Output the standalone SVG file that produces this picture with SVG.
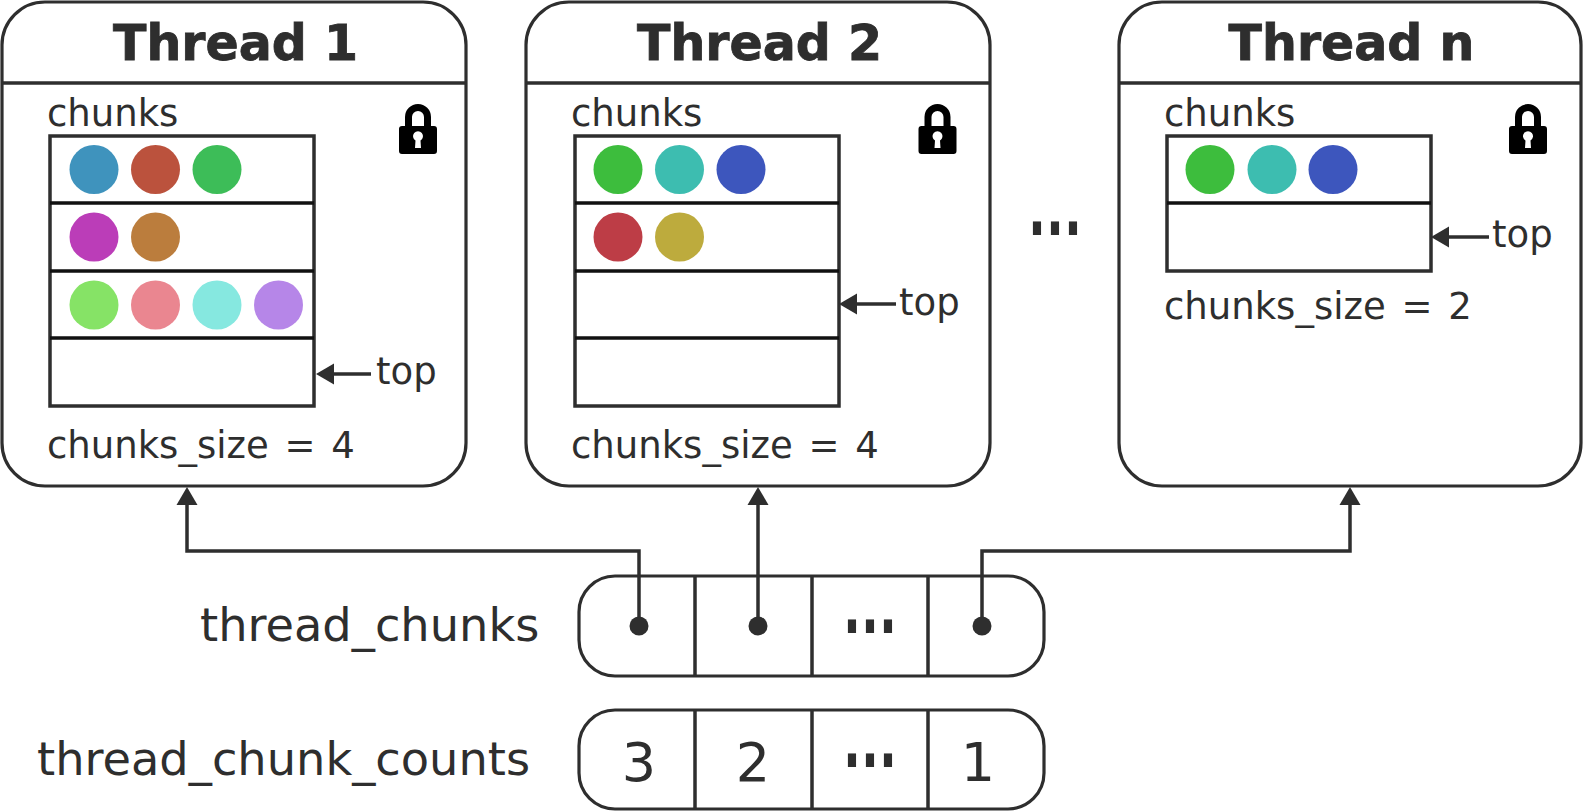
<svg xmlns="http://www.w3.org/2000/svg" width="1583" height="812" viewBox="0 0 1583 812">
<style>
text{font-family:"DejaVu Sans",sans-serif;fill:#2e2e2e}
.b{fill:#fff;stroke:#2e2e2e;stroke-width:3.200}
.l{fill:none;stroke:#2e2e2e;stroke-width:3.500}
.r{fill:none;stroke:#111;stroke-width:3.500}
.t{font-size:49px;font-weight:bold;text-anchor:middle;stroke:#2e2e2e;stroke-width:.8}
.s{font-size:37px;word-spacing:4px}
.m{font-size:46.300px}
.n{font-size:54px;text-anchor:middle}
.d{font-family:"Liberation Sans",sans-serif;font-size:72px;font-weight:bold;text-anchor:middle;letter-spacing:2.500px}
</style>
<defs>
<marker id="a" markerUnits="userSpaceOnUse" markerWidth="20" markerHeight="24" refX="14" refY="12" orient="auto"><path d="M0 1.500L18 12L0 22.500Z" fill="#2e2e2e"/></marker>
<g id="lock"><path d="M-9.500 3V-9a9.500 9.500 0 0 1 19 0V3" fill="none" stroke="#000" stroke-width="7"/><path fill-rule="evenodd" d="M-16 0H16Q19 0 19 3V25Q19 28 16 28H-16Q-19 28-19 25V3Q-19 0-16 0ZM-2.500 14.500A5 5 0 1 1 2.500 14.500L3 22H-3Z" fill="#000"/></g>
</defs>
<g id="thread1">
<rect class="b" x="2" y="2" width="464" height="484" rx="43"/><path class="l" d="M2 83H466"/>
<text class="t" x="235.500" y="60">Thread 1</text><text class="s" x="47" y="126">chunks</text>
<rect class="l" x="50" y="136" width="264" height="270"/><path class="r" d="M50 203H314M50 271H314M50 338H314"/>
<g><circle cx="94" cy="169.500" r="24.500" fill="#3f93bd"/><circle cx="155.500" cy="169.500" r="24.500" fill="#bb523d"/><circle cx="217" cy="169.500" r="24.500" fill="#3dbd58"/><circle cx="94" cy="237" r="24.500" fill="#bb3db8"/><circle cx="155.500" cy="237" r="24.500" fill="#bb7d3d"/><circle cx="94" cy="305" r="24.500" fill="#86e366"/><circle cx="155.500" cy="305" r="24.500" fill="#ea8690"/><circle cx="217" cy="305" r="24.500" fill="#86e8e0"/><circle cx="278.500" cy="305" r="24.500" fill="#b686e8"/></g>
<use href="#lock" x="418" y="126"/>
<text class="s" x="376" y="384">top</text><text class="s" x="47" y="458">chunks_size = 4</text>
</g>
<g id="thread2">
<rect class="b" x="526" y="2" width="464" height="484" rx="43"/><path class="l" d="M526 83H990"/>
<text class="t" x="759.500" y="60">Thread 2</text><text class="s" x="571" y="126">chunks</text>
<rect class="l" x="575" y="136" width="264" height="270"/><path class="r" d="M575 203H839M575 271H839M575 338H839"/>
<g><circle cx="618" cy="169.500" r="24.500" fill="#3dbd3d"/><circle cx="679.500" cy="169.500" r="24.500" fill="#3dbdb0"/><circle cx="741" cy="169.500" r="24.500" fill="#3d56bd"/><circle cx="618" cy="237" r="24.500" fill="#bd3d46"/><circle cx="679.500" cy="237" r="24.500" fill="#bdab3d"/></g>
<use href="#lock" x="937.500" y="126"/>
<text class="s" x="899" y="315">top</text><text class="s" x="571" y="458">chunks_size = 4</text>
</g>
<g id="threadn">
<rect class="b" x="1119" y="2" width="462" height="484" rx="43"/><path class="l" d="M1119 83H1581"/>
<text class="t" x="1351.500" y="60">Thread n</text><text class="s" x="1164" y="126">chunks</text>
<rect class="l" x="1167" y="136" width="264" height="135"/><path class="r" d="M1167 203H1431"/>
<g><circle cx="1210" cy="169.500" r="24.500" fill="#3dbd3d"/><circle cx="1272" cy="169.500" r="24.500" fill="#3dbdb0"/><circle cx="1333" cy="169.500" r="24.500" fill="#3d56bd"/></g>
<use href="#lock" x="1528" y="126"/>
<text class="s" x="1492" y="247">top</text><text class="s" x="1164" y="319">chunks_size = 2</text>
</g>
<g id="ellipsis"><text class="d" transform="translate(1056 234.500) scale(.8 1.25)">...</text></g>
<g id="thread_chunks">
<text class="m" x="200" y="641">thread_chunks</text>
<rect class="b" x="579" y="576" width="465" height="100" rx="36"/><path class="l" d="M695 576V676M812 576V676M928 576V676"/>
<text class="d" transform="translate(871 632.500) scale(.8 1.25)">...</text>
</g>
<g id="thread_chunk_counts">
<text class="m" x="37" y="774.500">thread_chunk_counts</text>
<rect class="b" x="579" y="710" width="465" height="99" rx="36"/><path class="l" d="M695 710V809M812 710V809M928 710V809"/>
<text class="n" x="639" y="781">3</text><text class="n" x="753" y="781">2</text><text class="d" transform="translate(871 766.500) scale(.8 1.25)">...</text><text class="n" x="978" y="781">1</text>
</g>
<g id="connectors">
<path class="l" marker-end="url(#a)" d="M639 626V551H187V491"/>
<path class="l" marker-end="url(#a)" d="M758 626V491"/>
<path class="l" marker-end="url(#a)" d="M982 626V551H1350V491"/>
<circle cx="639" cy="626" r="9.500" fill="#2e2e2e"/><circle cx="758" cy="626" r="9.500" fill="#2e2e2e"/><circle cx="982" cy="626" r="9.500" fill="#2e2e2e"/>
<path class="l" marker-end="url(#a)" d="M371 374H320"/>
<path class="l" marker-end="url(#a)" d="M896 304H843"/>
<path class="l" marker-end="url(#a)" d="M1489 237H1435"/>
</g>
</svg>
